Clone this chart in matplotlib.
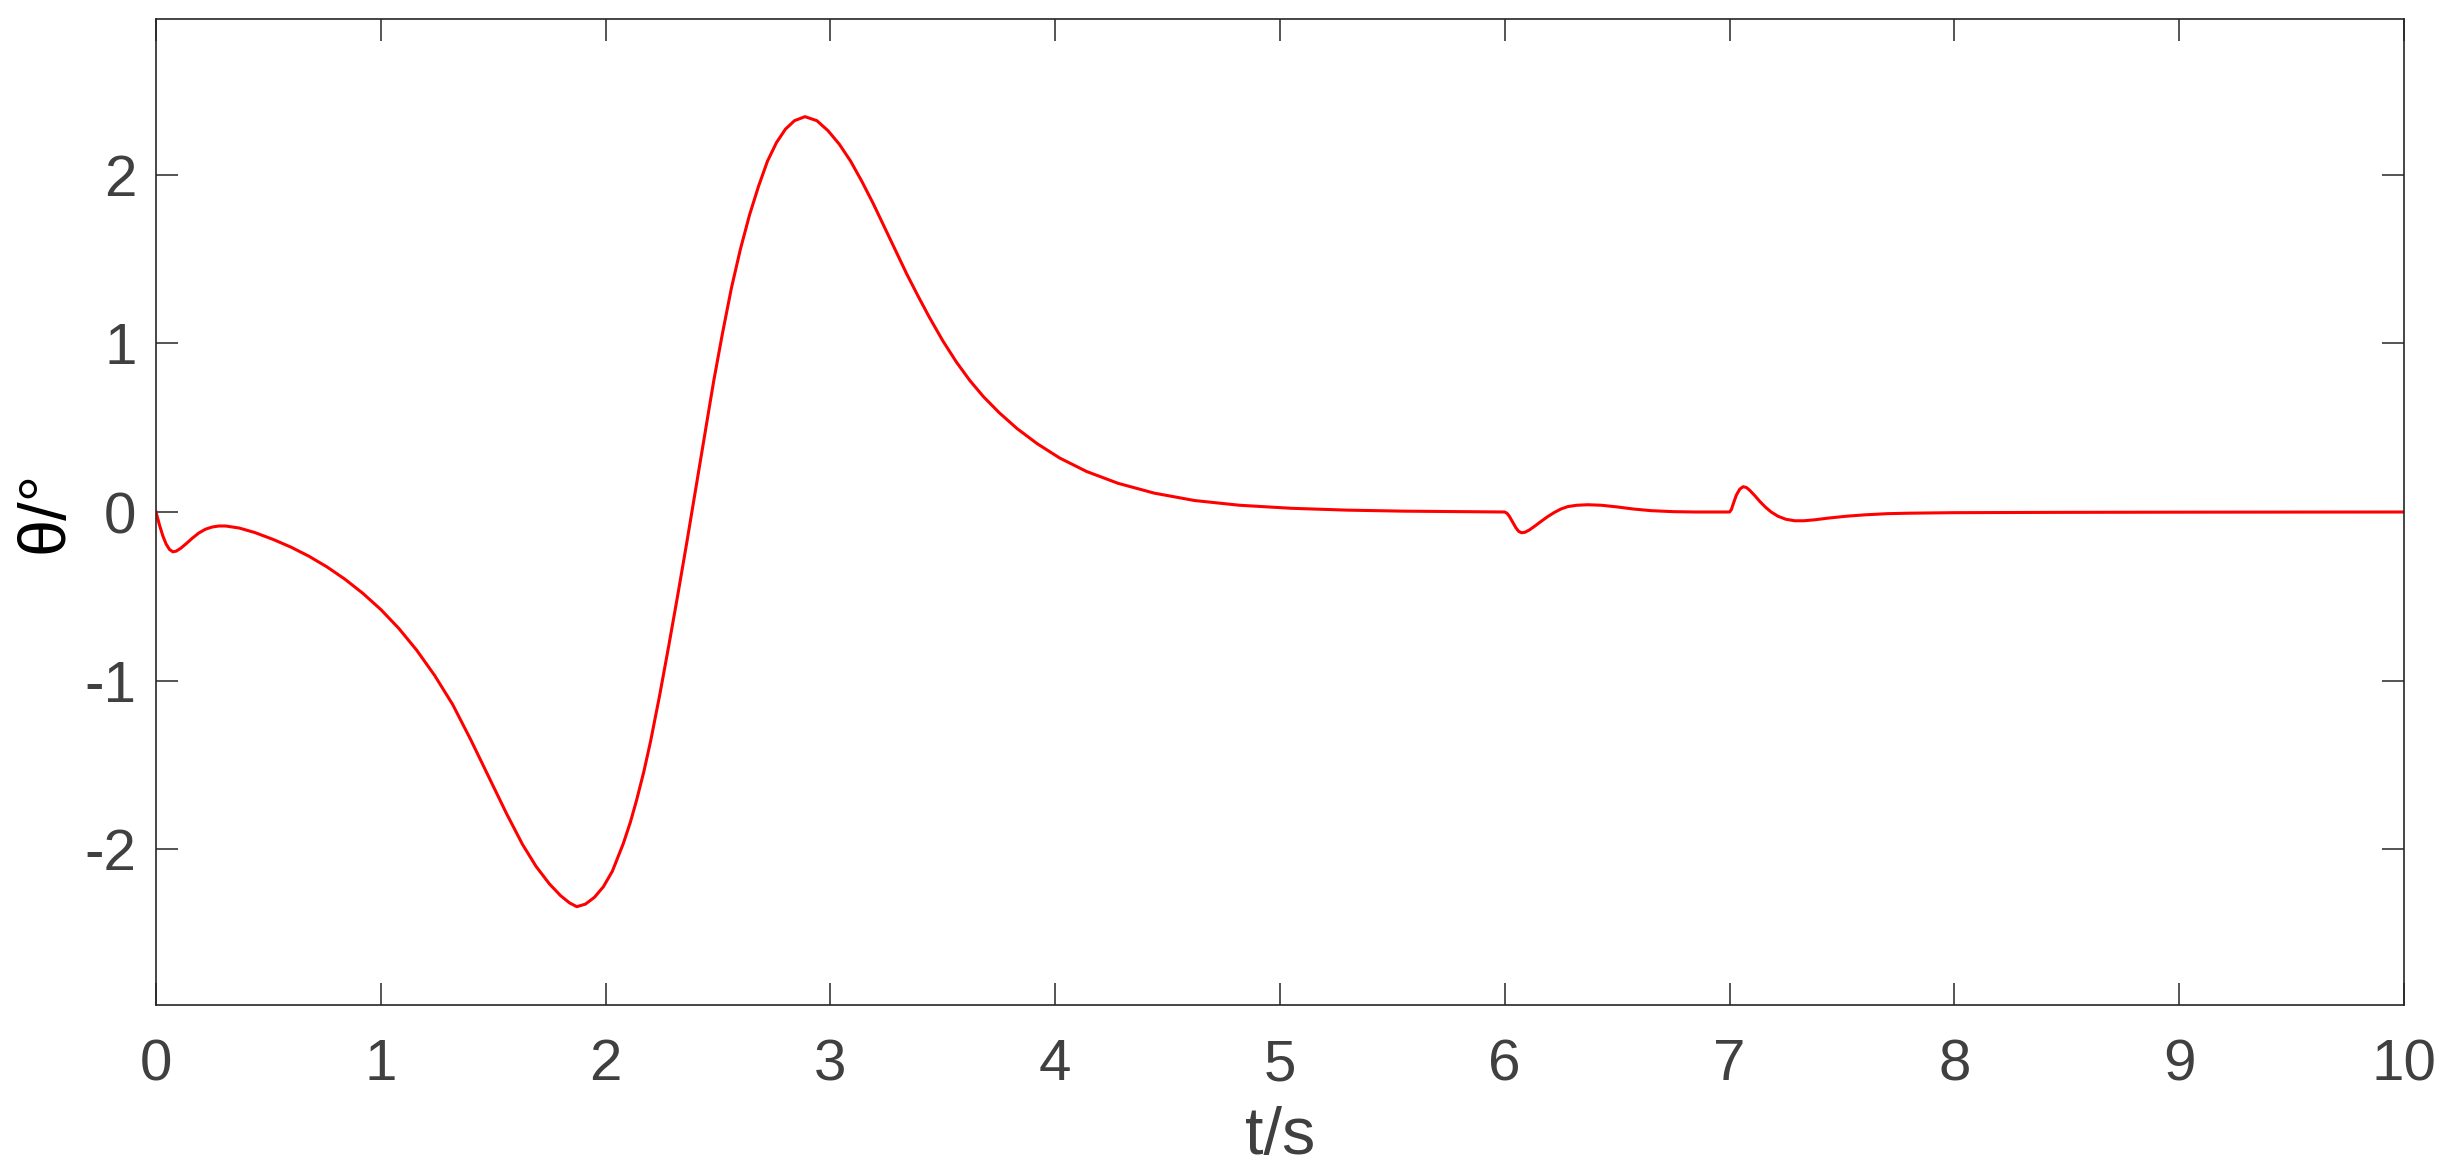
import matplotlib
matplotlib.use("Agg")
import matplotlib.pyplot as plt
from matplotlib.ticker import FixedLocator, FixedFormatter

plt.rcParams['font.family'] = ['Liberation Sans', 'DejaVu Sans']

# time (s)
t = [0.000, 0.015, 0.030, 0.045, 0.060, 0.075, 0.090, 0.110, 0.135, 0.160,
     0.190, 0.220, 0.250, 0.280, 0.310, 0.370, 0.440, 0.520, 0.600, 0.680,
     0.760, 0.840, 0.920, 1.000, 1.080, 1.160, 1.240, 1.320, 1.400, 1.480,
     1.560, 1.630, 1.690, 1.750, 1.800, 1.840, 1.872, 1.910, 1.950, 1.990,
     2.030, 2.079, 2.110, 2.138, 2.170, 2.200, 2.240, 2.280, 2.320, 2.360,
     2.400, 2.440, 2.480, 2.520, 2.560, 2.600, 2.640, 2.680, 2.720, 2.760,
     2.800, 2.840, 2.887, 2.940, 2.990, 3.040, 3.090, 3.140, 3.190, 3.240,
     3.290, 3.340, 3.390, 3.440, 3.500, 3.560, 3.620, 3.680, 3.750, 3.830,
     3.920, 4.020, 4.140, 4.280, 4.440, 4.620, 4.820, 5.050, 5.300, 5.550,
     5.800, 6.000, 6.010, 6.020, 6.035, 6.050, 6.062, 6.075, 6.090, 6.110,
     6.135, 6.160, 6.190, 6.220, 6.250, 6.280, 6.320, 6.370, 6.430, 6.500,
     6.570, 6.650, 6.750, 6.850, 7.000, 7.008, 7.018, 7.030, 7.045, 7.060,
     7.075, 7.090, 7.110, 7.135, 7.160, 7.185, 7.215, 7.250, 7.290, 7.330,
     7.380, 7.440, 7.520, 7.600, 7.700, 7.800, 8.000, 8.500, 9.000, 10.000]

# pitch angle (deg)
theta = [0.000, -0.075, -0.140, -0.190, -0.222, -0.236, -0.232, -0.215, -0.187, -0.157,
         -0.125, -0.102, -0.089, -0.083, -0.083, -0.095, -0.122, -0.162, -0.208, -0.262,
         -0.325, -0.398, -0.482, -0.578, -0.690, -0.820, -0.970, -1.142, -1.350, -1.570,
         -1.790, -1.970, -2.100, -2.205, -2.275, -2.318, -2.340, -2.325, -2.285, -2.222,
         -2.130, -1.965, -1.840, -1.708, -1.540, -1.360, -1.090, -0.800, -0.500, -0.190,
         0.130, 0.450, 0.770, 1.060, 1.330, 1.560, 1.760, 1.930, 2.080, 2.190,
         2.270, 2.320, 2.344, 2.320, 2.260, 2.180, 2.080, 1.960, 1.830, 1.690,
         1.550, 1.410, 1.280, 1.155, 1.015, 0.890, 0.780, 0.685, 0.590, 0.495,
         0.405, 0.320, 0.240, 0.170, 0.112, 0.068, 0.040, 0.022, 0.011, 0.005,
         0.002, 0.000, -0.008, -0.025, -0.060, -0.095, -0.115, -0.123, -0.120, -0.106,
         -0.082, -0.057, -0.028, -0.003, 0.018, 0.032, 0.040, 0.043, 0.040, 0.030,
         0.018, 0.008, 0.002, 0.000, 0.000, 0.015, 0.055, 0.100, 0.135, 0.150,
         0.145, 0.128, 0.100, 0.062, 0.028, 0.000, -0.025, -0.043, -0.052, -0.052,
         -0.046, -0.036, -0.025, -0.017, -0.010, -0.007, -0.004, -0.002, -0.001, 0.000]

xticks = [0, 1, 2, 3, 4, 5, 6, 7, 8, 9, 10]
xticklabels = ['0', '1', '2', '3', '4', '5', '6', '7', '8', '9', '10']
yticks = [-2, -1, 0, 1, 2]
yticklabels = ['-2', '-1', '0', '1', '2']

W, H = 2453, 1173
fig = plt.figure(figsize=(W / 100, H / 100), dpi=100)
ax = fig.add_axes([156 / W, 1 - 1005 / H, (2404 - 156) / W, (1005 - 19) / H])

ax.plot(t, theta, color='#ff0000', lw=2.2, solid_joinstyle='round')

ax.set_xlim(0, 10)
ax.set_ylim(-2.923, 2.923)

ax.xaxis.set_major_locator(FixedLocator(xticks))
ax.xaxis.set_major_formatter(FixedFormatter(xticklabels))
ax.yaxis.set_major_locator(FixedLocator(yticks))
ax.yaxis.set_major_formatter(FixedFormatter(yticklabels))

edge = '#262626'
for s in ax.spines.values():
    s.set_color(edge)
    s.set_linewidth(1.2)

ax.tick_params(axis='both', which='major', direction='in', length=16, width=1.1,
               color=edge, labelcolor='#404040', labelsize=42,
               top=True, right=True)
ax.tick_params(axis='x', pad=24)
ax.tick_params(axis='y', pad=14)

ax.set_xlabel('t/s', fontsize=48, color='#404040', labelpad=10)
ax.set_ylabel('θ/°', fontsize=48, color='black', labelpad=6)

fig.savefig('out.png', dpi=100, facecolor='white')
